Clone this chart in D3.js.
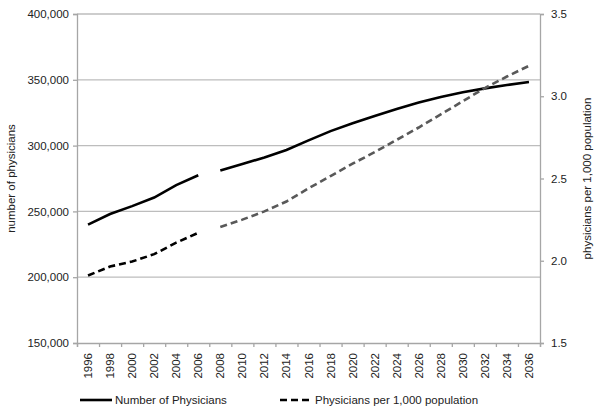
<!DOCTYPE html>
<html>
<head>
<meta charset="utf-8">
<script src="https://cdn.jsdelivr.net/npm/d3@7"></script>
<style>
  body { margin: 0; background: #fff; }
  svg text { font-family: "Liberation Sans", Arial, sans-serif; fill: #222; }
</style>
</head>
<body>
<div id="chart"></div>
<script>
// years shown on the category axis
const years = [1996, 1998, 2000, 2002, 2004, 2006, 2008, 2010, 2012, 2014, 2016,
  2018, 2020, 2022, 2024, 2026, 2028, 2030, 2032, 2034, 2036]

// number of physicians (historical to 2006, projected from 2008)
const physiciansHist = [240000, 248000, 254000, 260500, 270000, 277500]
const physiciansProj = [281000, 286000, 291000, 296700, 304000, 311000, 317000,
  322500, 327800, 332800, 337000, 340600, 343500, 346000, 348300]

// physicians per 1,000 population
const ratioHist = [1.91, 1.965, 1.995, 2.04, 2.11, 2.17]
const ratioProj = [2.205, 2.25, 2.30, 2.36, 2.44, 2.515, 2.59, 2.66, 2.735,
  2.81, 2.89, 2.97, 3.05, 3.12, 3.185]

const leftTicks = [150000, 200000, 250000, 300000, 350000, 400000]
const rightTicks = [1.5, 2.0, 2.5, 3.0, 3.5]

const width = 600
const height = 415
const plotL = 77, plotR = 540, plotT = 14, plotB = 343

const svg = d3.select("#chart").append("svg")
    .attr("width", width)
    .attr("height", height)

const x = d3.scaleBand().domain(years).range([plotL, plotR]).padding(0)
const cx = d => x(d) + x.bandwidth() / 2
const yL = d3.scaleLinear().domain([150000, 400000]).range([plotB, plotT])
const yR = d3.scaleLinear().domain([1.5, 3.5]).range([plotB, plotT])

// gridlines
svg.append("g")
    .selectAll("line")
    .data(leftTicks.slice(1))
    .enter()
    .append("line")
    .attr("x1", plotL).attr("x2", plotR)
    .attr("y1", d => yL(d)).attr("y2", d => yL(d))
    .attr("stroke", "#bdbdbd").attr("stroke-width", 1.3)

// left axis
const gL = svg.append("g")
    .attr("transform", `translate(${plotL},0)`)
    .call(d3.axisLeft(yL).tickValues(leftTicks).tickSize(4).tickPadding(4).tickFormat(d3.format(",")))
gL.selectAll("text").style("font-size", "11.5px")

// right axis
const gR = svg.append("g")
    .attr("transform", `translate(${plotR},0)`)
    .call(d3.axisRight(yR).tickValues(rightTicks).tickSize(4).tickPadding(7).tickFormat(d3.format(".1f")))
gR.selectAll("text").style("font-size", "11.5px")

// bottom axis: labels centred on the categories, ticks between them
const gB = svg.append("g")
    .attr("transform", `translate(0,${plotB})`)
    .call(d3.axisBottom(x).tickSize(0).tickPadding(0))
gB.selectAll("text")
    .style("font-size", "11.5px")
    .attr("text-anchor", "end")
    .attr("transform", "rotate(-90)")
    .attr("x", -10)
    .attr("y", 0)
    .attr("dy", "0.35em")
gB.select(".domain").remove()

const xEdge = d3.scaleLinear().domain([0, years.length]).range([plotL, plotR])
svg.append("g")
    .attr("transform", `translate(0,${plotB})`)
    .call(d3.axisBottom(xEdge).ticks(years.length).tickSize(4).tickFormat(""))

svg.selectAll(".domain, .tick line").attr("stroke", "#a6a6a6").attr("stroke-width", 1.3)

// lines
const lineL = d3.line().x(d => cx(d.year)).y(d => yL(d.value))
const lineR = d3.line().x(d => cx(d.year)).y(d => yR(d.value))

const pack = (vals, offset) => vals.map((v, i) => ({ year: years[i + offset], value: v }))

const series = [
  { data: pack(physiciansHist, 0), line: lineL, color: "#000", dash: null },
  { data: pack(physiciansProj, 6), line: lineL, color: "#000", dash: null },
  { data: pack(ratioHist, 0), line: lineR, color: "#000", dash: "7,4" },
  { data: pack(ratioProj, 6), line: lineR, color: "#595959", dash: "7,4" }
]

svg.append("g")
    .selectAll("path")
    .data(series)
    .enter()
    .append("path")
    .attr("d", d => d.line(d.data))
    .attr("fill", "none")
    .attr("stroke", d => d.color)
    .attr("stroke-width", 2.6)
    .attr("stroke-dasharray", d => d.dash)

// axis titles
svg.append("text")
    .attr("transform", `translate(11,${(plotT + plotB) / 2}) rotate(-90)`)
    .attr("text-anchor", "middle")
    .attr("dy", "0.35em")
    .style("font-size", "11.5px")
    .text("number of physicians")

svg.append("text")
    .attr("transform", `translate(587,${(plotT + plotB) / 2}) rotate(-90)`)
    .attr("text-anchor", "middle")
    .attr("dy", "0.35em")
    .style("font-size", "11.5px")
    .text("physicians per 1,000 population")

// legend
const legend = [
  { label: "Number of Physicians", x: 80, dash: null },
  { label: "Physicians per 1,000 population", x: 280, dash: "7,4" }
]
const lg = svg.append("g").selectAll("g").data(legend).enter().append("g")
lg.append("line")
    .attr("x1", d => d.x).attr("x2", d => d.x + 32)
    .attr("y1", 400).attr("y2", 400)
    .attr("stroke", "#000").attr("stroke-width", 2.6)
    .attr("stroke-dasharray", d => d.dash)
lg.append("text")
    .attr("x", d => d.x + 35)
    .attr("y", 400)
    .attr("dy", "0.35em")
    .style("font-size", "11.5px")
    .text(d => d.label)
</script>
</body>
</html>
